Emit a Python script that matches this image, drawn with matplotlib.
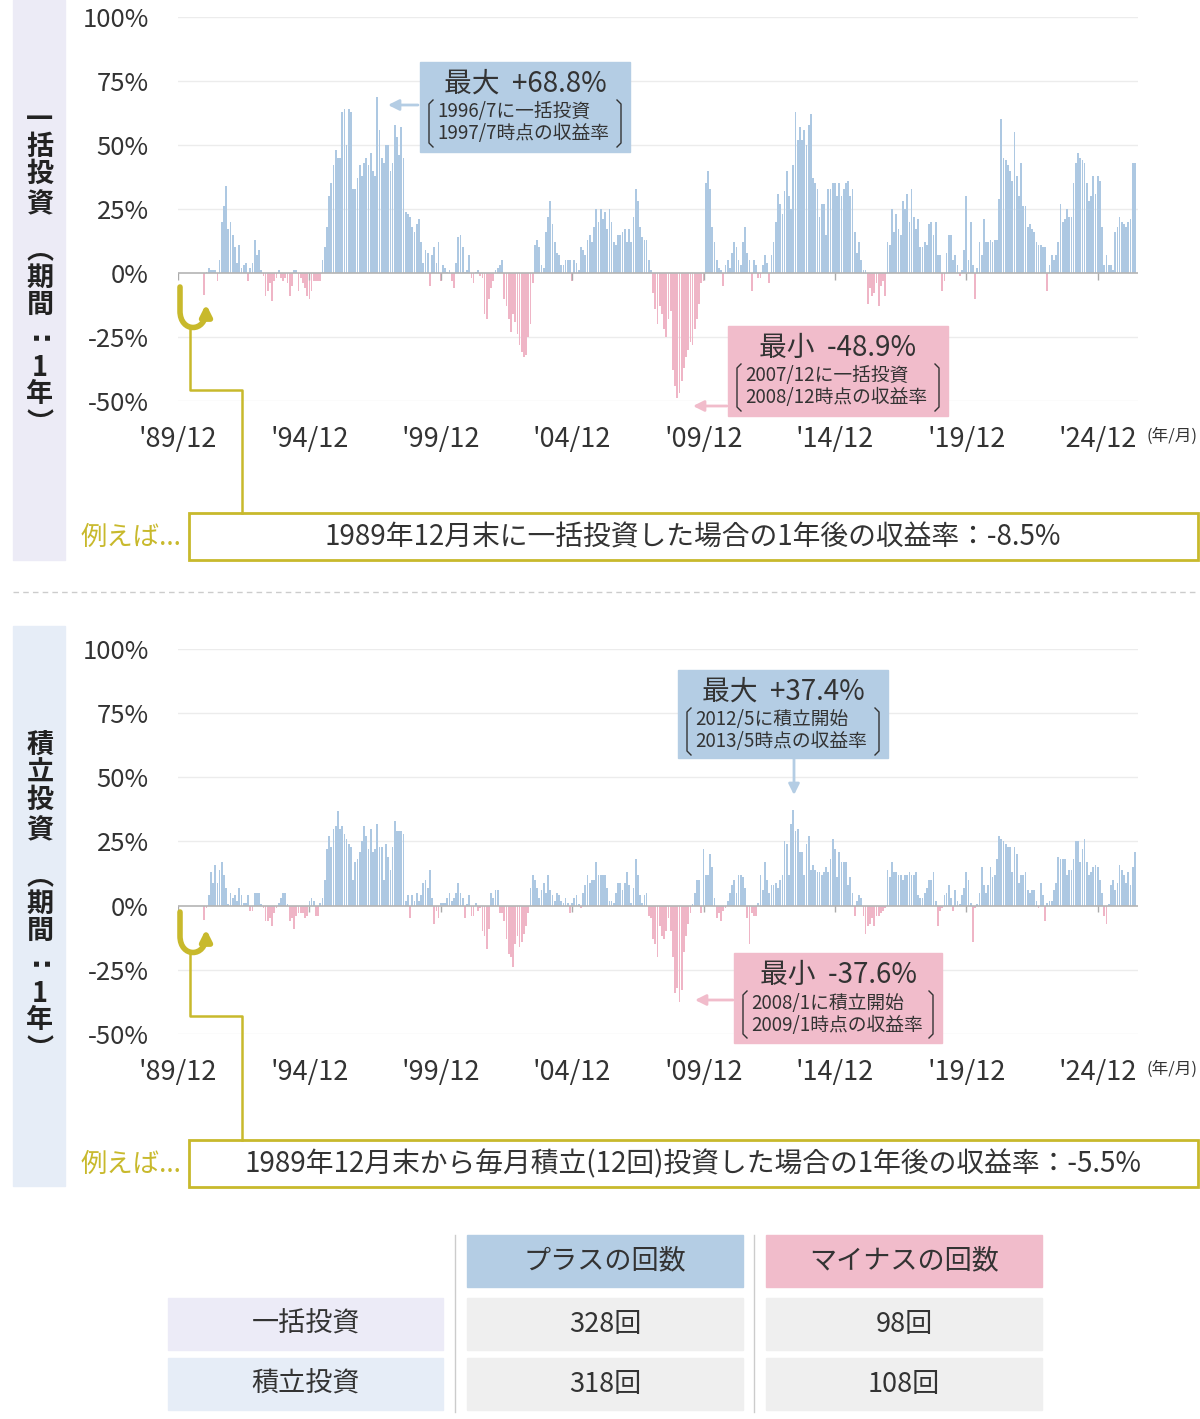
import matplotlib
matplotlib.use("Agg")
import matplotlib.pyplot as plt
import matplotlib.patches as patches
from matplotlib.path import Path
import numpy as np

plt.rcParams['font.family'] = ['Noto Sans CJK JP', 'DejaVu Sans']

# 1-year returns (%), one value per month, end month 1990/12 -> 2026/5
# (offset of 12 months from the '89/12 tick)
start_offset = 12
lump_sum = [
    -8.5, 0.5, 2, 1, 1, 1, -3, 5, 20, 26, 34, 17,
    20, 15, 10, 4, 11, 2, 3, 4, -3, 2, 4, 13,
    7, 9, 1, -1, -9, -7, -4, -11, -3, -2, 1, -2,
    -3, -2, -4, -9, -5, 1, 1, -7, -2, -4, -6, -9,
    -10, -7, -3, -3, -3, -3, 5, 10, 18, 30, 35, 42,
    48, 45, 45, 63, 64, 50, 64, 63, 33, 33, 37, 42,
    38, 43, 45, 42, 47, 40, 38, 68.8, 56, 45, 43, 50,
    50, 40, 43, 58, 53, 46, 57, 45, 24, 23, 22, 18,
    16, 19, 21, 12, 4, 9, 8, -5, 7, 10, 4, 12,
    -3, 3, 2, 0.5, 1, -3, -6, 4, 14, 15, 10, 0.5,
    1, 7, -2, -4, 0.5, 1, -1, -2, -16, -18, -10, -6,
    -3, 1, 2, 3, 5, -10, -13, -18, -23, -16, -19, -24,
    -28, -31, -33, -32, -25, -20, -4, 11, 13, 10, 3, 2,
    16, 22, 28, 19, 12, 8, 7, 3, 3, 5, 5, 5,
    -3, 5, 4, 1, 10, 9, 7, 13, 15, 12, 18, 25,
    20, 25, 21, 24, 17, 25, 20, 12, 11, 15, 15, 16,
    17, 12, 17, 12, 22, 33, 28, 18, 14, 13, 13, 5,
    1, -8, -14, -20, -13, -16, -22, -25, -18, -15, -38, -44,
    -48.9, -47, -42, -37, -33, -30, -27, -28, -22, -18, -12, -4,
    -3, 35, 40, 33, 18, 12, 5, 2, 1, -5, 3, 5,
    2, 8, 12, 10, 5, 3, 12, 18, 8, 5, -7, 5,
    3, -2, -2, 3, 7, 4, -4, 7, 12, 20, 31, 27,
    23, 32, 40, 30, 25, 42, 63, 52, 57, 52, 56, 50,
    58, 62, 37, 35, 33, 22, 27, 27, 15, 33, 33, 35,
    35, 30, 35, 30, 33, 35, 36, 30, 33, 16, 8, 12,
    5, 1, 1, -12, -6, -9, -8, -4, -13, -5, -3, -9,
    12, 11, 25, 16, 23, 17, 15, 28, 25, 31, 20, 33,
    22, 17, 21, 10, 10, 12, 11, 19, 20, 15, 20, 7,
    7, -7, -3, 8, 15, 15, 5, 7, 3, -1, 1, 9,
    30, 5, 20, 3, -10, 2, 12, 7, 21, 12, 12, 13,
    12, 13, 13, 29, 60, 45, 44, 42, 40, 36, 55, 38,
    30, 43, 26, 26, 18, 19, 17, 16, 12, 11, 11, 10,
    10, -7, 3, 7, 5, 7, 12, 27, 20, 21, 25, 22,
    22, 35, 43, 47, 45, 44, 43, 35, 28, 30, 38, 31,
    38, 36, 18, 3, 7, 3, 3, 1, 16, 18, 22, 20,
    19, 18, 20, 21, 43, 43,
]
monthly = [
    -5.5, -1, 4, 13, 9, 16, 9, 14, 17, 12, 7, 0.5,
    5, 3, 4, 2, 7, 4, 1, 1, 4, -2, -2, 5,
    5, 5, 0.5, -1, -6, -6, -5, -8, -3, -1, 1, 3,
    5, 5, 0.5, -6, -5, -9, -4, -3, -3, -3, -5, -4,
    2, 3, 2, -4, -4, 1, 3, 10, 22, 27, 23, 30,
    31, 37, 30, 31, 28, 26, 24, 23, 10, 17, 18, 21,
    25, 31, 27, 22, 30, 21, 22, 32, 23, 23, 10, 24,
    19, 14, 23, 33, 29, 29, 29, 28, 2, 4, -5, 4,
    2, 5, 2, 4, 9, 10, 7, 14, 3, -7, -2, -5,
    1, 1, 1, 3, 5, 2, 3, 5, 9, 5, 3, -5,
    0.5, 4, -4, -4, 1, -2, -1, -10, -12, -17, -9, 5,
    3, 6, 6, -3, -3, -6, -13, -19, -20, -24, -15, -12,
    -16, -14, -11, -8, -3, 7, 12, 10, 7, 3, 6, 9,
    5, 12, 6, 4, 2, 5, 4, 2, 1, 3, 1, -3,
    1, 3, 4, 0.5, -1, 5, 8, 12, 9, 10, 10, 17,
    12, 12, 12, 12, 7, 2, 2, 1, 5, 9, 9, 6,
    9, 13, 8, 1, 7, 18, 12, 4, 1, 4, 5, -4,
    -5, -13, -15, -20, -8, -12, -13, -10, -5, -10, -20, -34,
    -32, -37.6, -33, -18, -12, -7, -3, 0.5, 5, 10, 10, -3,
    22, 12, 12, 20, 15, 3, -5, -3, -6, -2, -1, 2,
    5, 8, 10, 5, 12, 12, 11, 7, -5, -15, -3, -4,
    -4, 1, 12, 6, 17, 10, 5, 8, 8, 9, 7, 10,
    12, 25, 24, 12, 32, 37.4, 29, 30, 21, 21, 12, 24,
    27, 14, 16, 14, 13, 13, 12, 13, 15, 13, 18, 26,
    22, 11, 21, 17, 17, 17, 8, 11, 5, -4, 2, 4,
    3, -4, -11, -8, -7, -5, -8, -4, -4, -3, -2, -1,
    14, 11, 17, 13, 13, 12, 12, 10, 12, 12, 13, 12,
    12, 13, 4, 3, 3, 5, 7, 10, 10, 13, 2, -8,
    -2, -1, 4, 5, 8, 3, -2, 6, 2, 0.5, 4, 7,
    13, 10, 1, -14, -1, 0.5, 5, 15, 8, 5, 8, 15,
    11, 12, 18, 27, 26, 25, 24, 23, 23, 13, 23, 20,
    9, 12, 12, 13, 6, 5, 6, 6, 2, -1, 9, 4,
    -6, 1, 2, 2, 6, 9, 19, 18, 18, 18, 12, 14,
    14, 18, 25, 25, 17, 22, 26, 17, 12, 13, 15, 16,
    15, 10, 5, -4, -7, 0.5, 8, 10, 6, 9, 16, 14,
    12, 9, 13, 8, 15, 21,
]

x_tick_labels = ["'89/12", "'94/12", "'99/12", "'04/12", "'09/12", "'14/12", "'19/12", "'24/12"]
y_ticks = [-50, -25, 0, 25, 50, 75, 100]
y_tick_labels = ["-50%", "-25%", "0%", "25%", "50%", "75%", "100%"]

table_cols = ["プラスの回数", "マイナスの回数"]
table_rows = ["一括投資", "積立投資"]
plus_counts = [328, 318]
minus_counts = [98, 108]

BLUE = '#adc8e2'
PINK = '#efb5c6'
BOX_BLUE = '#b4cde4'
BOX_PINK = '#f1bccb'
OLIVE = '#c8b92c'
TXT = '#333333'

W, H = 1200, 1419
fig = plt.figure(figsize=(W / 100, H / 100), dpi=100)


def make_chart(top_px, bottom_px, values):
    ax = fig.add_axes([178 / W, 1 - bottom_px / H, 960 / W, (bottom_px - top_px) / H])
    ax.set_facecolor('none')
    vals = np.array(values)
    xs = np.arange(len(vals)) + start_offset
    colors = [BLUE if v >= 0 else PINK for v in vals]
    ax.bar(xs, vals, width=0.8, color=colors, linewidth=0, zorder=3)
    for g in [-50, -25, 25, 50, 75, 100]:
        ax.axhline(g, color='#ececec', lw=1, zorder=1)
    ax.axhline(0, color='#b4b4b4', lw=1.2, zorder=4)
    tick_pos = np.arange(0, 421, 60)
    ax.vlines(tick_pos, -2.6, 0, color='#aaaaaa', lw=1, zorder=4)
    ax.set_xlim(0, 438.4)
    ax.set_ylim(-50, 100)
    ax.set_yticks(y_ticks)
    ax.set_yticklabels(y_tick_labels)
    ax.set_xticks(tick_pos)
    ax.set_xticklabels(x_tick_labels)
    ax.tick_params(axis='y', length=0, pad=21, labelsize=18.5, labelcolor=TXT)
    ax.tick_params(axis='x', length=0, pad=18, labelsize=19.5, labelcolor=TXT)
    for s in ax.spines.values():
        s.set_visible(False)
    return ax


ax1 = make_chart(17, 401, lump_sum)
ax2 = make_chart(649, 1034, monthly)

# overlay in pixel coordinates
ov = fig.add_axes([0, 0, 1, 1], zorder=10)
ov.set_xlim(0, W)
ov.set_ylim(H, 0)
ov.axis('off')
ov.patch.set_alpha(0)

# side bands with vertical labels (vertical presentation forms for the brackets)
ov.add_patch(patches.Rectangle((13, 0), 52, 560, color='#ecebf6', zorder=0))
ov.add_patch(patches.Rectangle((13, 626), 52, 560, color='#e6edf7', zorder=0))
label_y = [120, 147, 174, 204, 250, 278, 305, 334, 368, 394, 424]
for top, label in [(0, "一括投資\ufe35期間:1年\ufe36"), (626, "積立投資\ufe35期間:1年\ufe36")]:
    for ch, yy in zip(label, label_y):
        if ch == ':':
            # colon turned sideways, as in vertical writing
            ov.text(40, top + yy, ch, ha='center', va='center', fontsize=21,
                    fontweight='bold', color='#222222', rotation=90, family='DejaVu Sans')
        else:
            ov.text(40, top + yy, ch, ha='center', va='center', fontsize=19.5,
                    fontweight='bold', color='#222222')

ov.plot([13, 1198], [592, 592], color='#cccccc', lw=1, ls=(0, (4, 3)))

ov.text(1172, 436, "(年/月)", ha='center', va='center', fontsize=12, color=TXT)
ov.text(1172, 1069, "(年/月)", ha='center', va='center', fontsize=12, color=TXT)


def bracket(xl, xr, y0, y1):
    ov.plot([xl + 4, xl, xl, xl + 4], [y0, y0 + 4, y1 - 4, y1], color=TXT, lw=1)
    ov.plot([xr - 4, xr, xr, xr - 4], [y0, y0 + 4, y1 - 4, y1], color=TXT, lw=1)


def note_box(x, y, w, h, color, title, line1, line2):
    ov.add_patch(patches.Rectangle((x, y), w, h, color=color, zorder=2))
    ov.text(x + w / 2, y + 22, title, ha='center', va='center', fontsize=20, color=TXT, zorder=3)
    ov.text(x + 17, y + 50, line1, ha='left', va='center', fontsize=13.5, color=TXT, zorder=3)
    ov.text(x + 17, y + 72, line2, ha='left', va='center', fontsize=13.5, color=TXT, zorder=3)
    bracket(x + 9, x + w - 9, y + 38, y + 85)


def arrow(p0, p1, color):
    ov.annotate("", xy=p1, xytext=p0,
                arrowprops=dict(arrowstyle='-|>', color=color, lw=2, mutation_scale=16,
                                shrinkA=0, shrinkB=0))


note_box(420, 62, 210, 90, BOX_BLUE, "最大  +68.8%", "1996/7に一括投資", "1997/7時点の収益率")
arrow((418, 105), (388, 105), BOX_BLUE)
note_box(728, 326, 220, 90, BOX_PINK, "最小  -48.9%", "2007/12に一括投資", "2008/12時点の収益率")
arrow((727, 406), (693, 406), BOX_PINK)
note_box(678, 670, 210, 88, BOX_BLUE, "最大  +37.4%", "2012/5に積立開始", "2013/5時点の収益率")
arrow((794, 758), (794, 795), BOX_BLUE)
note_box(734, 953, 208, 90, BOX_PINK, "最小  -37.6%", "2008/1に積立開始", "2009/1時点の収益率")
arrow((733, 1000), (695, 1000), BOX_PINK)


def example(u_top, line_y, box_top, text):
    verts = [(180, u_top), (180, u_top + 24), (180, u_top + 46), (206, u_top + 46),
             (206, u_top + 24), (206, u_top + 17)]
    codes = [Path.MOVETO, Path.LINETO, Path.CURVE4, Path.CURVE4, Path.CURVE4, Path.LINETO]
    ov.add_patch(patches.FancyArrowPatch(path=Path(verts, codes), arrowstyle='-|>',
                                         mutation_scale=16, color=OLIVE, lw=4))
    ov.plot([190, 190, 242, 242], [u_top + 40, line_y, line_y, box_top], color=OLIVE, lw=1.8)
    ov.add_patch(patches.Rectangle((189, box_top), 1009, 47, fc='white', ec=OLIVE, lw=2))
    ov.text(693, box_top + 24, text, ha='center', va='center', fontsize=20, color=TXT)
    ov.text(131, box_top + 24, "例えば...", ha='center', va='center', fontsize=19, color=OLIVE)


example(287, 390, 513, "1989年12月末に一括投資した場合の1年後の収益率：-8.5%")
example(912, 1016, 1140, "1989年12月末から毎月積立(12回)投資した場合の1年後の収益率：-5.5%")

# summary table
col_x = [467, 766]
ov.plot([455, 455], [1235, 1412], color='#cccccc', lw=1)
ov.plot([754, 754], [1235, 1412], color='#cccccc', lw=1)
for cx, name, c in zip(col_x, table_cols, [BOX_BLUE, BOX_PINK]):
    ov.add_patch(patches.Rectangle((cx, 1235), 276, 52, color=c))
    ov.text(cx + 138, 1261, name, ha='center', va='center', fontsize=19.5, color=TXT)
row_y = [1298, 1358]
row_colors = ['#ecebf7', '#e6edf7']
for ry, name, rc, pc, mc in zip(row_y, table_rows, row_colors, plus_counts, minus_counts):
    ov.add_patch(patches.Rectangle((168, ry), 275, 52, color=rc))
    ov.text(306, ry + 26, name, ha='center', va='center', fontsize=19.5, color=TXT)
    for cx, v in zip(col_x, [pc, mc]):
        ov.add_patch(patches.Rectangle((cx, ry), 276, 52, color='#efefef'))
        ov.text(cx + 138, ry + 26, f"{v}回", ha='center', va='center', fontsize=19.5, color=TXT)

fig.savefig("out.png", dpi=100)
